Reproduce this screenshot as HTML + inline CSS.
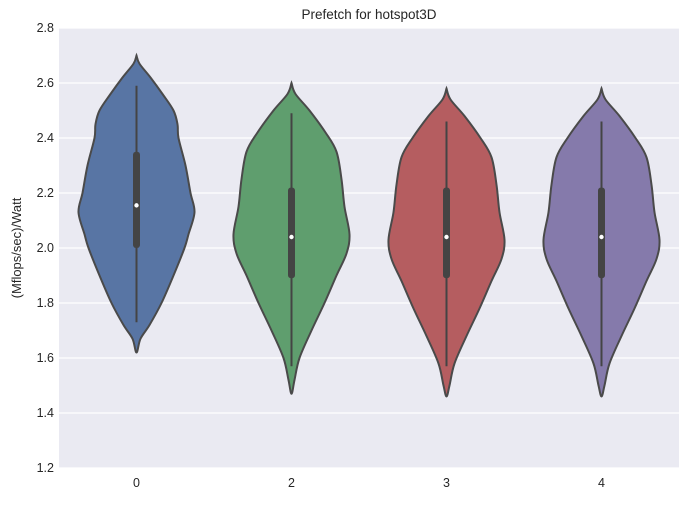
<!DOCTYPE html>
<html><head><meta charset="utf-8"><style>
body{margin:0;background:#fff;}
svg text{font-family:"Liberation Sans",Arial,sans-serif;fill:#262626;}
</style></head><body>
<svg id="c" width="688" height="502"></svg>
<script>
const categories=["0","2","3","4"];
const colors=["#5875a4","#5f9e6e","#b55d60","#857aab"];
const yTicks=[1.2,1.4,1.6,1.8,2.0,2.2,2.4,2.6,2.8];
// density profiles: [value, half-width px]
const profile0=[[2.70,0],[2.67,3],[2.62,14],[2.56,26],[2.5,37],[2.45,41],[2.4,42],[2.3,49],[2.2,54],[2.13,58],[2.05,52],[2.0,48],[1.9,37],[1.8,25],[1.72,13],[1.67,4],[1.62,0]];
const profileB=[[2.60,0],[2.56,4],[2.5,18],[2.42,34],[2.35,45],[2.25,50],[2.15,53],[2.05,58],[1.98,55],[1.9,45],[1.8,33],[1.7,20],[1.6,8],[1.52,3],[1.47,0]];
const profileC=[[2.58,0],[2.54,4],[2.48,18],[2.4,34],[2.33,45],[2.23,50],[2.13,53],[2.03,58],[1.96,55],[1.88,45],[1.78,33],[1.68,20],[1.58,8],[1.5,3],[1.46,0]];
const profiles=[profile0,profileB,profileC,profileC];
const q1=[2.0,1.89,1.89,1.89];
const q3=[2.35,2.22,2.22,2.22];
const medians=[2.155,2.04,2.04,2.04];
const whiskLo=[1.73,1.57,1.57,1.57];
const whiskHi=[2.59,2.49,2.46,2.46];
const L=59,R=679,T=28,B=468,ymin=1.2,ymax=2.8;
const y=v=>B-(v-ymin)/(ymax-ymin)*(B-T);
const bw=(R-L)/categories.length;
const x=i=>L+bw*(i+0.5);
const svg=document.getElementById('c');
const NS='http://www.w3.org/2000/svg';
function mk(t,a,p){const e=document.createElementNS(NS,t);for(const k in a)e.setAttribute(k,a[k]);(p||svg).appendChild(e);return e;}
let bg=mk('rect',{x:L,y:T,width:R-L,height:B-T,fill:'#eaeaf2'});


yTicks.forEach(v=>{
 let g=mk('line',{x1:L,x2:R,y1:y(v),y2:y(v),stroke:'#fff','stroke-width':1.2});
 
 
 let t=mk('text',{x:L-5,y:y(v)+4,'text-anchor':'end','font-size':12.5});
 t.textContent=v.toFixed(1);
 
 
});
function smooth(pts){let d='M'+pts[0][0]+','+pts[0][1];
 for(let i=0;i<pts.length-1;i++){const p0=pts[i-1]||pts[i],p1=pts[i],p2=pts[i+1],p3=pts[i+2]||p2;
  d+=' C'+(p1[0]+(p2[0]-p0[0])/6)+','+(p1[1]+(p2[1]-p0[1])/6)+' '+(p2[0]-(p3[0]-p1[0])/6)+','+(p2[1]-(p3[1]-p1[1])/6)+' '+p2[0]+','+p2[1];}
 return d;}
categories.forEach((c,i)=>{
 const cx=x(i),pr=profiles[i];
 const pts=pr.map(p=>[cx+p[1],y(p[0])]).concat(pr.slice().reverse().slice(1).map(p=>[cx-p[1],y(p[0])]));
 let v=mk('path',{d:smooth(pts)+'Z',fill:colors[i],stroke:'#4a4a4a','stroke-width':2});
 
 
 let w=mk('line',{x1:cx,x2:cx,y1:y(whiskHi[i]),y2:y(whiskLo[i]),stroke:'#444','stroke-width':2});
 
 
 let b=mk('rect',{x:cx-3.5,y:y(q3[i]),width:7,height:y(q1[i])-y(q3[i]),rx:3,fill:'#444'});
 
 
 let m=mk('circle',{cx:cx,cy:y(medians[i]),r:2.2,fill:'#fff'});
 
 
 let t=mk('text',{x:cx,y:B+19,'text-anchor':'middle','font-size':12.5});
 t.textContent=c;
 
 
});
let ti=mk('text',{x:(L+R)/2,y:T-9,'text-anchor':'middle','font-size':13.5});
ti.textContent='Prefetch for hotspot3D';


let yl=mk('text',{x:0,y:0,'text-anchor':'middle','font-size':13,transform:'translate(21,'+((T+B)/2)+') rotate(-90)'});
yl.textContent='(Mflops/sec)/Watt';


</script>
</body></html>
